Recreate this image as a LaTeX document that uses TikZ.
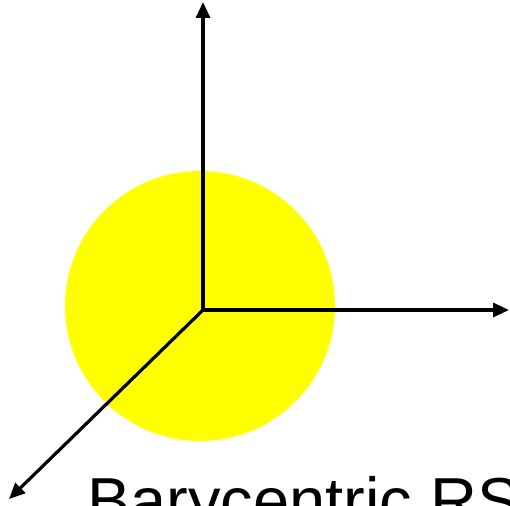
\documentclass[tikz,border=0pt]{standalone}
\usepackage{fontspec}
\setmainfont{Liberation Sans}
\usetikzlibrary{arrows.meta}
\definecolor{sunyellow}{RGB}{255,255,0}
\begin{document}
\begin{tikzpicture}[x=1pt,y=-1pt,
  axis/.style={line width=3.2pt,-{Triangle[length=16pt,width=14pt]}}]
\useasboundingbox (0,0) rectangle (510,505);
\fill[sunyellow] (200,306) circle[radius=135];
\coordinate (o) at (203,310);
\coordinate (zt) at (203,2);
\coordinate (yt) at (509,310);
\coordinate (xt) at (9,499);
\draw[axis] (o) -- (zt);
\draw[axis] (o) -- (yt);
\draw[axis] (o) -- (xt);
\node[anchor=base west,inner sep=0pt,font=\fontsize{65}{70}\selectfont] (lbl) at (87,523) {Barycentric RS};
\end{tikzpicture}
\end{document}
